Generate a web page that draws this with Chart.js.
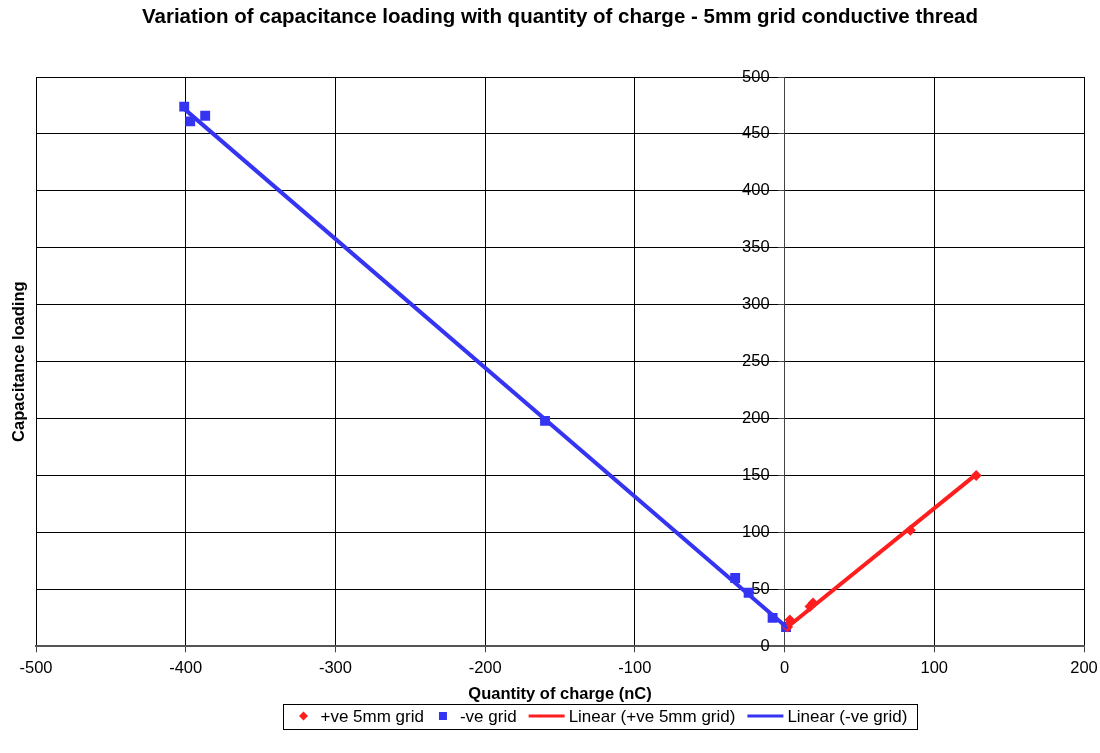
<!DOCTYPE html>
<html>
<head>
<meta charset="utf-8">
<script src="https://cdn.jsdelivr.net/npm/chart.js@4.4.1/dist/chart.umd.min.js"></script>
<style>
  html, body { margin: 0; padding: 0; background: #ffffff; }
  #wrap { width: 1100px; height: 753px; position: relative; }
</style>
</head>
<body>
<div id="wrap"><canvas id="c" width="1100" height="753"></canvas></div>
<script>
// ---- Data ----
const chartTitle = 'Variation of capacitance loading with quantity of charge - 5mm grid conductive thread';
const xTitle = 'Quantity of charge (nC)';
const yTitle = 'Capacitance loading';

const posLabel = '+ve 5mm grid';
const posX = [2, 3.5, 17, 19, 84, 128];
const posY = [17, 23, 35, 38, 102, 150];

const negLabel = '-ve grid';
const negX = [-401, -397, -387, -160, -33, -24, -8, 1];
const negY = [474, 461, 466, 198, 60, 47, 25, 17];

const trendPosLabel = 'Linear (+ve 5mm grid)';
const trendPosX = [2, 128];
const trendPosY = [17, 151];

const trendNegLabel = 'Linear (-ve grid)';
const trendNegX = [-401, 2];
const trendNegY = [472, 16];

const xTicksMin = -500, xTicksMax = 200, xStep = 100;
const yTicksMin = 0, yTicksMax = 500, yStep = 50;
const yLabelAt = -10; // y tick labels sit just left of the x = 0 axis

// ---- Styles ----
const RED = '#ff1e1e';
const BLUE = '#3434f2';
const FONT = "'Liberation Sans', Arial, sans-serif";

function pts(xs, ys) { return xs.map((x, i) => ({ x: x, y: ys[i] })); }

const legendPlugin = {
  id: 'boxLegend',
  afterDraw(chart) {
    const ctx = chart.ctx;
    const items = chart.data.datasets;
    ctx.save();
    const fs = 17;
    ctx.font = fs + 'px ' + FONT;
    ctx.textBaseline = 'middle';
    const markerW = 14, lineW = 36, gapMarker = 10, gapLine = 4, gapItem = 12;
    const padL = 13, padR = 10;
    const parts = items.map(d => {
      const isLine = d.legendKind === 'line';
      return { d, sw: isLine ? lineW : markerW, gap: isLine ? gapLine : gapMarker, tw: ctx.measureText(d.label).width };
    });
    let total = padL + padR;
    parts.forEach((p, k) => { total += p.sw + p.gap + p.tw + (k < parts.length - 1 ? gapItem : 0); });
    const cx = 600, cy = 716, boxH = 25;
    const bx = Math.round(cx - total / 2) + 0.5;
    const by = Math.round(cy - boxH / 2) + 0.5;
    ctx.fillStyle = '#ffffff';
    ctx.fillRect(bx, by, Math.round(total), boxH);
    ctx.strokeStyle = '#000000';
    ctx.lineWidth = 1;
    ctx.strokeRect(bx, by, Math.round(total), boxH);
    let x = bx + padL;
    parts.forEach(p => {
      const d = p.d;
      if (d.legendKind === 'line') {
        ctx.strokeStyle = d.borderColor;
        ctx.lineWidth = 3;
        ctx.beginPath();
        ctx.moveTo(x, cy);
        ctx.lineTo(x + p.sw, cy);
        ctx.stroke();
      } else {
        ctx.fillStyle = d.backgroundColor;
        const mx = x + p.sw / 2;
        ctx.beginPath();
        if (d.pointStyle === 'rectRot') {
          const r = 4.5;
          ctx.moveTo(mx, cy - r); ctx.lineTo(mx + r, cy); ctx.lineTo(mx, cy + r); ctx.lineTo(mx - r, cy);
          ctx.closePath();
        } else {
          const r = 4;
          ctx.rect(mx - r, cy - r, 2 * r, 2 * r);
        }
        ctx.fill();
      }
      x += p.sw + p.gap;
      ctx.fillStyle = '#000000';
      ctx.textAlign = 'left';
      ctx.fillText(d.label, x, cy + 1);
      x += p.tw + gapItem;
    });
    ctx.restore();
  }
};

const bgPlugin = {
  id: 'bg',
  beforeDraw(chart) {
    const ctx = chart.ctx;
    ctx.save();
    ctx.fillStyle = '#ffffff';
    ctx.fillRect(0, 0, chart.width, chart.height);
    ctx.restore();
  }
};

const tickFont = { family: FONT, size: 16.5 };
const axisTitleFont = { family: FONT, size: 16.5, weight: 'bold' };

const cfg = {
  type: 'scatter',
  data: {
    datasets: [
      {
        label: posLabel, legendKind: 'marker',
        data: pts(posX, posY),
        pointStyle: 'rectRot', pointRadius: 5.5, pointHoverRadius: 5.5,
        backgroundColor: RED, borderColor: RED, borderWidth: 0,
        showLine: false, order: 2
      },
      {
        label: negLabel, legendKind: 'marker',
        data: pts(negX, negY),
        pointStyle: 'rect', pointRadius: 7, pointHoverRadius: 7,
        backgroundColor: BLUE, borderColor: BLUE, borderWidth: 0,
        showLine: false, order: 3
      },
      {
        label: trendPosLabel, legendKind: 'line',
        data: pts(trendPosX, trendPosY),
        showLine: true, pointRadius: 0, borderColor: RED, backgroundColor: RED,
        borderWidth: 4, order: 0
      },
      {
        label: trendNegLabel, legendKind: 'line',
        data: pts(trendNegX, trendNegY),
        showLine: true, pointRadius: 0, borderColor: BLUE, backgroundColor: BLUE,
        borderWidth: 4, order: 1
      }
    ]
  },
  options: {
    responsive: false,
    animation: false,
    events: [],
    layout: { padding: { left: 2, right: 16, top: 0, bottom: 45 } },
    plugins: {
      legend: { display: false },
      tooltip: { enabled: false },
      title: {
        display: true, fullSize: false, text: chartTitle, color: '#000',
        font: { family: FONT, size: 20.5, weight: 'bold' },
        padding: { top: 5, bottom: 47.4 }
      }
    },
    scales: {
      x: {
        type: 'linear', min: xTicksMin, max: xTicksMax,
        afterFit(scale) { scale.paddingLeft = 0; scale.paddingRight = 0; },
        ticks: { stepSize: xStep, color: '#000', font: tickFont, padding: 6, maxRotation: 0 },
        grid: { color: '#000', lineWidth: 1, tickLength: 6, tickColor: '#444' },
        border: { color: '#555', width: 2 },
        title: { display: true, text: xTitle, color: '#000', font: axisTitleFont, padding: { top: 0, bottom: 4.1 } }
      },
      y: {
        type: 'linear', min: yTicksMin, max: yTicksMax,
        position: { x: 0 },
        ticks: { stepSize: yStep, display: false },
        grid: { color: '#000', lineWidth: 1, tickLength: 6, tickColor: '#444' },
        border: { color: '#444', width: 1 }
      },
      yLabels: {
        type: 'linear', axis: 'y', min: yTicksMin, max: yTicksMax,
        position: { x: yLabelAt },
        ticks: { stepSize: yStep, color: '#000', font: tickFont, padding: 0 },
        grid: { display: false, drawTicks: false },
        border: { display: false }
      },
      yTitleAxis: {
        type: 'linear', position: 'left', axis: 'y', min: 0, max: 1,
        ticks: { display: false },
        grid: { display: false, drawTicks: false },
        border: { display: false },
        title: { display: true, text: yTitle, color: '#000', font: axisTitleFont, padding: { top: 8, bottom: 6.2 } }
      }
    }
  },
  plugins: [bgPlugin, legendPlugin]
};

new Chart(document.getElementById('c'), cfg);
</script>
</body>
</html>
